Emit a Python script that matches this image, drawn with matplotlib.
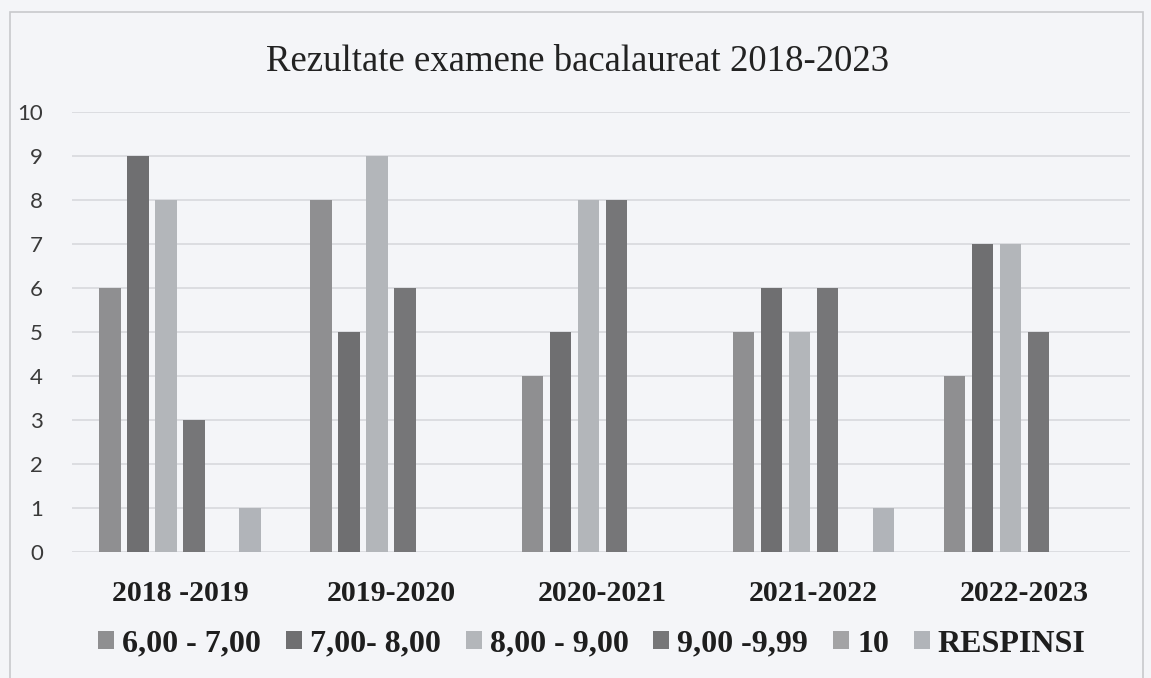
import numpy as np
import matplotlib
matplotlib.use("Agg")
import matplotlib.pyplot as plt
from matplotlib.patches import Rectangle

years = ["2018 -2019", "2019-2020", "2020-2021", "2021-2022", "2022-2023"]
series = ["6,00 - 7,00", "7,00- 8,00", "8,00 - 9,00", "9,00 -9,99", "10", "RESPINSI"]
v_6_7 = [6, 8, 4, 5, 4]
v_7_8 = [9, 5, 5, 6, 7]
v_8_9 = [8, 9, 8, 5, 7]
v_9_10 = [3, 6, 8, 6, 5]
v_10 = [0, 0, 0, 0, 0]
v_resp = [1, 0, 0, 1, 0]
values = [v_6_7, v_7_8, v_8_9, v_9_10, v_10, v_resp]
colors = ["#8f8f91", "#6f6f71", "#b3b6ba", "#767678", "#a3a3a5", "#b1b4b9"]

bg = "#f4f5f8"
W, H = 1151, 678
fig = plt.figure(figsize=(W / 100, H / 100), dpi=100, facecolor=bg)
# plot area in pixels: x 72..1130, y 112..552
ax = fig.add_axes([72 / W, 1 - 552 / H, (1130 - 72) / W, (552 - 112) / H], facecolor=bg)

x = np.arange(len(years))
step = 0.1327
width = 0.104
for i, (name, vals) in enumerate(zip(series, values)):
    ax.bar(x + (i - 2.5) * step, vals, width, color=colors[i], label=name, zorder=3)

ax.set_xlim(-0.514, len(years) - 0.5)
ax.set_ylim(0, 10)
ax.set_yticks(range(0, 11))
ax.grid(axis="y", color="#d8d9dd", linewidth=1.2, zorder=0)
for s in ax.spines.values():
    s.set_visible(False)
ax.tick_params(axis="both", length=0)
ax.tick_params(axis="y", labelsize=16, labelcolor="#3a3a3a", pad=21)
for t in ax.get_yticklabels():
    t.set_fontfamily("Lato")
ax.set_xticks(x)
ax.set_xticklabels(years, fontfamily="Liberation Serif", fontweight="bold", fontsize=21.5, color="#1e1e1e")
ax.tick_params(axis="x", pad=20)

fig.suptitle("Rezultate examene bacalaureat 2018-2023", x=0.502, y=0.935,
             fontfamily="Liberation Serif", fontsize=26.5, color="#222222")

leg = fig.legend(loc="center", bbox_to_anchor=(592 / W, 1 - 644 / H), ncol=6, frameon=False,
                 prop={"family": "Liberation Serif", "weight": "bold", "size": 23},
                 handlelength=0.5, handleheight=0.5, handletextpad=0.25, columnspacing=0.78)
for t in leg.get_texts():
    t.set_color("#1e1e1e")

fig.patches.append(Rectangle((10 / W, -0.01), (1143 - 10) / W, 1 - 12 / H + 0.01,
                             transform=fig.transFigure, fill=False,
                             edgecolor="#c8c9cc", linewidth=1.2))

fig.savefig("out.png", dpi=100, facecolor=bg)
